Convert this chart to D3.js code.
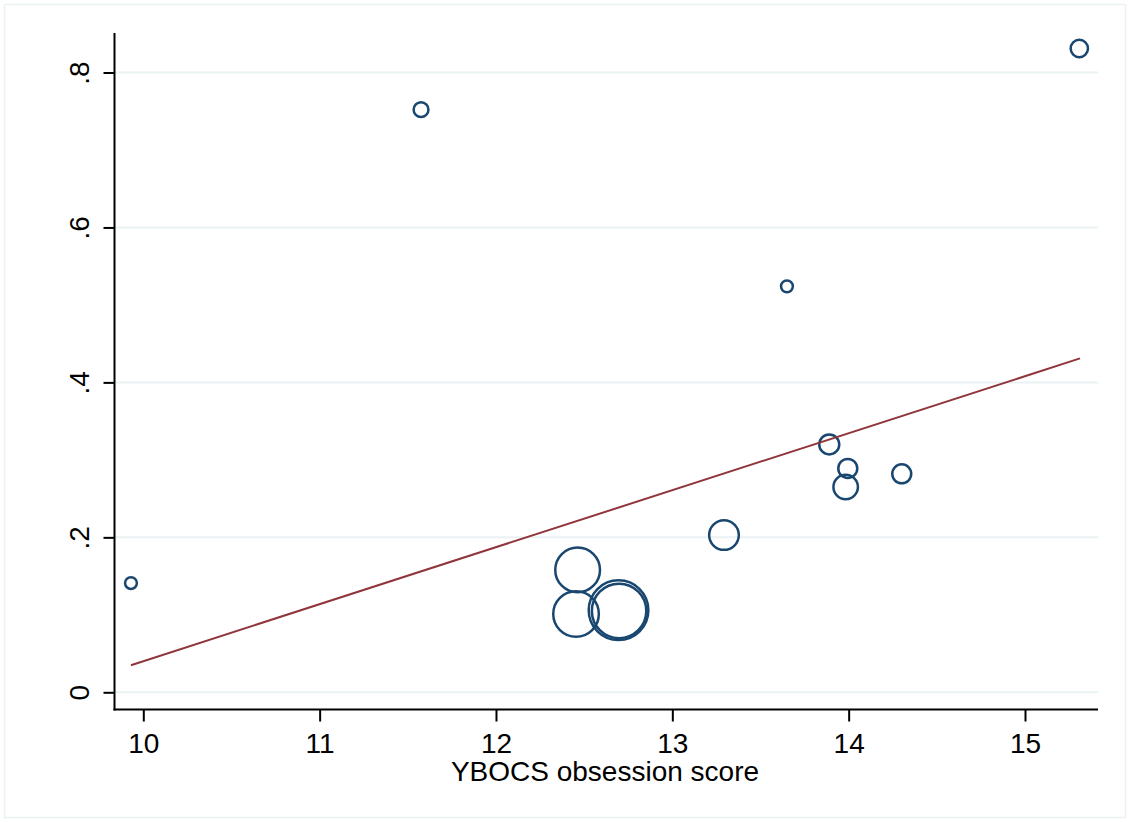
<!DOCTYPE html>
<html><head><meta charset="utf-8">
<script src="https://cdn.jsdelivr.net/npm/d3@7"></script>
<style>body{margin:0;background:#fff}svg{display:block}</style>
</head><body>
<script>
// Data
const ybocs = [9.930, 11.575, 13.650, 15.308, 13.890, 13.995, 13.983, 14.301, 13.293, 12.463, 12.454, 12.695, 12.698];
const effect = [0.141, 0.752, 0.524, 0.831, 0.320, 0.289, 0.265, 0.282, 0.203, 0.158, 0.101, 0.106, 0.105];
const weight = [0.35, 0.55, 0.35, 0.75, 1.0, 0.9, 1.5, 0.9, 2.2, 5.0, 5.2, 8.9, 7.4];
const fitX = [9.930, 15.312];
const fitY = [0.035, 0.431];
const xTicks = [10, 11, 12, 13, 14, 15];
const yTicks = [0, 0.2, 0.4, 0.6, 0.8];
const yTickLabels = ["0", ".2", ".4", ".6", ".8"];
const xTitle = "YBOCS obsession score";

(function () {
const W = 1130, H = 822;
const svg = d3.select("body").append("svg").attr("width", W).attr("height", H);
svg.append("rect").attr("x", 4.5).attr("y", 4.5).attr("width", 1121).attr("height", 813)
  .attr("fill", "#fff").attr("stroke", "#eaf2f3").attr("stroke-width", 1.5);

const x = d3.scaleLinear().domain([10, 15]).range([143.3, 1025]);
const y = d3.scaleLinear().domain([0, 0.8]).range([692.3, 72.5]);
const r = d3.scaleSqrt().domain([0, 1]).range([0, 10]);
const pLeft = 114.5, pRight = 1098, pTop = 33, pBottom = 709.5;
const font = "'Liberation Sans', Arial, sans-serif";
const fs = 28;

// gridlines
svg.append("g").selectAll("line").data(yTicks).join("line")
  .attr("x1", pLeft).attr("x2", pRight).attr("y1", d => y(d)).attr("y2", d => y(d))
  .attr("stroke", "#eaf2f3").attr("stroke-width", 2);

// y axis
const yAxis = svg.append("g").attr("transform", `translate(${pLeft},0)`)
  .call(d3.axisLeft(y).tickValues(yTicks).tickSize(11).tickFormat((d, i) => yTickLabels[i]));
yAxis.select(".domain").remove();
yAxis.selectAll(".tick line").attr("stroke", "#000").attr("stroke-width", 2);
yAxis.selectAll(".tick text").attr("font-family", font).attr("font-size", fs).attr("fill", "#000")
  .attr("text-anchor", "middle").attr("dy", null).attr("x", null)
  .attr("transform", "translate(-25.5,0) rotate(-90)");
svg.append("line").attr("x1", pLeft).attr("x2", pLeft).attr("y1", pTop).attr("y2", pBottom + 1)
  .attr("stroke", "#000").attr("stroke-width", 2);

// x axis
const xAxis = svg.append("g").attr("transform", `translate(0,${pBottom})`)
  .call(d3.axisBottom(x).tickValues(xTicks).tickSize(12).tickFormat(d3.format("d")));
xAxis.select(".domain").remove();
xAxis.selectAll(".tick line").attr("stroke", "#000").attr("stroke-width", 2);
xAxis.selectAll(".tick text").attr("font-family", font).attr("font-size", fs).attr("fill", "#000")
  .attr("y", 43).attr("dy", null);
svg.append("line").attr("x1", pLeft - 1).attr("x2", pRight).attr("y1", pBottom).attr("y2", pBottom)
  .attr("stroke", "#000").attr("stroke-width", 2);

svg.append("text").attr("x", 605).attr("y", 781).attr("text-anchor", "middle")
  .attr("font-family", font).attr("font-size", fs).attr("fill", "#000").text(xTitle);

// bubbles
const pts = ybocs.map((v, i) => ({x: v, y: effect[i], w: weight[i]}));
svg.append("g").selectAll("circle").data(pts).join("circle")
  .attr("cx", d => x(d.x)).attr("cy", d => y(d.y)).attr("r", d => r(d.w))
  .attr("fill", "none").attr("stroke", "#1a476f").attr("stroke-width", 2.5);

// fitted line
svg.append("line").attr("x1", x(fitX[0])).attr("y1", y(fitY[0])).attr("x2", x(fitX[1])).attr("y2", y(fitY[1]))
  .attr("stroke", "#90353b").attr("stroke-width", 2);
})();
</script>
</body></html>
